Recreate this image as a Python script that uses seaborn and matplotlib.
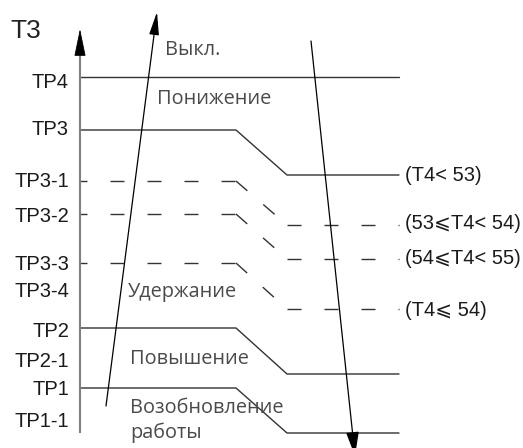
import pandas as pd
import matplotlib
matplotlib.use('Agg')
import matplotlib.pyplot as plt
import seaborn as sns

# level names on the T3 axis and the baseline of each label (px from top)
level_names = ['TP4', 'TP3', 'TP3-1', 'TP3-2', 'TP3-3', 'TP3-4', 'TP2', 'TP2-1', 'TP1', 'TP1-1']
level_base = [88, 135, 187, 222, 270, 297, 337, 367, 395, 427]

# x knots of the threshold lines: axis, start of drop, end of drop, right end
x_knots = [80, 236, 287, 399]

# TP4 is flat; TP3, TP2, TP1 drop to a lower level
tp4_level = 77
solid_names = ['TP3', 'TP2', 'TP1']
solid_before = [130, 328, 388]
solid_after = [175, 374, 433]

# dashed thresholds TP3-1, TP3-2, TP3-3
dashed_before = [181, 214, 263]
dashed_after = [225, 259, 309]

# T4 conditions at the right end
cond_labels = ['(T4< 53)', '(53⩽T4< 54)', '(54⩽T4< 55)', '(T4⩽ 54)']
cond_base = [181, 229, 264, 316]

# zone names between the lines
zone_labels = ['Выкл.', 'Понижение', 'Удержание', 'Повышение', 'Возобновление', 'работы']
zone_x = [165, 157, 128, 130, 130, 130]
zone_base = [55, 104, 297, 364, 413, 438]

sns.set_theme(style='white')
plt.rcParams['lines.scale_dashes'] = False
latin = ['Liberation Sans', 'DejaVu Sans']
PX = 0.72  # px -> pt at 100 dpi

fig = plt.figure(figsize=(5.23, 4.48), dpi=100)
ax = fig.add_axes([0, 0, 1, 1])

# solid threshold lines
rows = [('TP4', x_knots[0], tp4_level), ('TP4', x_knots[3], tp4_level)]
for name, y0, y1 in zip(solid_names, solid_before, solid_after):
    for x, y in zip(x_knots, [y0, y0, y1, y1]):
        rows.append((name, x, y))
solid_df = pd.DataFrame(rows, columns=['level', 'x', 'y'])
sns.lineplot(data=solid_df, x='x', y='y', units='level', estimator=None, sort=False,
             color='#333333', linewidth=1.0, legend=False, ax=ax)

# dashed threshold lines
for y0, y1 in zip(dashed_before, dashed_after):
    ax.plot(x_knots[:2], [y0, y0], color='#333333', lw=1.0,
            linestyle=(7 * PX, (14 * PX, 23 * PX)))
    ax.plot(x_knots[1:3], [y0, y1], color='#333333', lw=1.0,
            linestyle=(0, (15 * PX, 21 * PX)))
    ax.plot(x_knots[2:], [y1, y1], color='#333333', lw=1.0,
            linestyle=(0, (14 * PX, 23 * PX)))

# T3 axis: gray shaft, black head
ax.plot([x_knots[0], x_knots[0]], [433, 45], color='#808080', lw=1.5, solid_capstyle='butt')
ax.annotate('', xy=(x_knots[0], 29), xytext=(x_knots[0], 52),
            arrowprops=dict(arrowstyle='-|>,head_length=1.25,head_width=0.26',
                            mutation_scale=14, lw=0.6, color='black', shrinkA=0, shrinkB=0))

# rising (switch-off) and falling arrows
ax.annotate('', xy=(157, 12), xytext=(106, 406),
            arrowprops=dict(arrowstyle='-|>,head_length=1.4,head_width=0.3',
                            mutation_scale=10, lw=0.9, color='black', shrinkA=0, shrinkB=0))
ax.annotate('', xy=(355, 456), xytext=(311, 41), annotation_clip=False,
            arrowprops=dict(arrowstyle='-|>,head_length=1.5,head_width=0.4',
                            mutation_scale=10, lw=0.9, color='black', shrinkA=0, shrinkB=0))

# texts
ax.text(10, 38, 'T3', fontsize=19, family=latin, color='#222222', va='baseline')
for name, yb in zip(level_names, level_base):
    ax.text(69, yb, name, ha='right', va='baseline', fontsize=14.5, family=latin, color='#1a1a1a')
for lab, yb in zip(cond_labels, cond_base):
    ax.text(405, yb, lab, ha='left', va='baseline', fontsize=14.5, family=latin, color='#1a1a1a')
for lab, x, yb in zip(zone_labels, zone_x, zone_base):
    ax.text(x, yb, lab, ha='left', va='baseline', fontsize=14.3, family=['Open Sans', 'DejaVu Sans'],
            color='#4a4a4a')

ax.set_xlim(0, 523)
ax.set_ylim(448, 0)
ax.axis('off')

fig.savefig('out.png', dpi=100)
plt.close(fig)
